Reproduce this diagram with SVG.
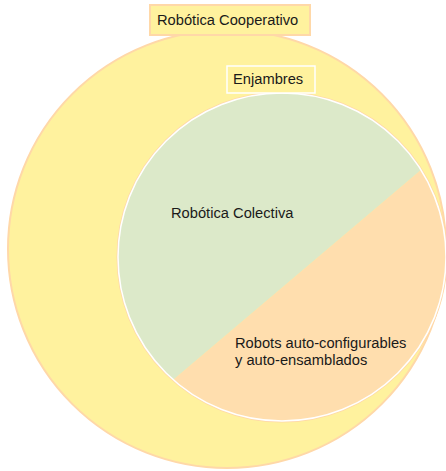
<svg xmlns="http://www.w3.org/2000/svg" width="446" height="471" viewBox="0 0 446 471">
<style>
text{font-family:"Liberation Sans",Arial,sans-serif;font-size:14.7px;fill:#1a1a1a}
.lbl{fill:#fff29e}
</style>
<rect width="446" height="471" fill="#ffffff"/>
<g id="cooperativo">
<circle cx="227" cy="249" r="219" fill="#fff29e" stroke="#ffd8a8" stroke-width="2"/>
</g>
<g id="enjambres-circle">
<circle cx="282" cy="257" r="164" fill="none" stroke="#ffd8a8" stroke-width="3"/>
<path d="M173.35 379.87 A164 164 0 1 1 421 170 Z" fill="#dce9c9"/>
<path d="M421 170 A164 164 0 0 1 173.35 379.87 Z" fill="#ffdeae"/>
<circle cx="282" cy="257" r="164" fill="none" stroke="#ffffff" stroke-width="1.5"/>
</g>
<g id="label-cooperativo">
<rect x="150" y="5" width="160" height="30" class="lbl" stroke="#ffd8a8" stroke-width="2"/>
<text x="157" y="25">Robótica Cooperativo</text>
</g>
<g id="label-enjambres">
<rect x="227" y="66" width="88" height="27" class="lbl" stroke="#ffffff" stroke-width="1.5"/>
<text x="233" y="84">Enjambres</text>
</g>
<g id="colectiva">
<text x="171" y="218">Robótica Colectiva</text>
</g>
<g id="autoconfig">
<text x="235" y="348">Robots auto-configurables</text>
<text x="235" y="365">y auto-ensamblados</text>
</g>
<g id="connectors"></g>
</svg>
